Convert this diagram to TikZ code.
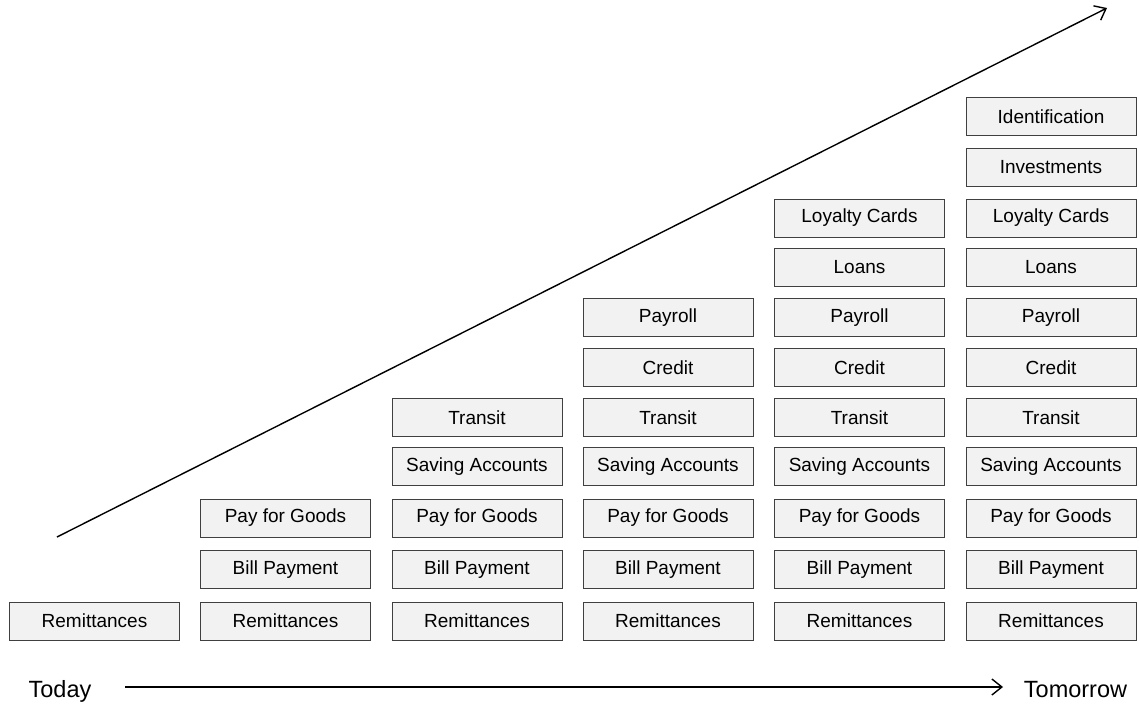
\documentclass[tikz,border=0pt]{standalone}
\usepackage{fontspec}
\setmainfont{Liberation Sans}
\usetikzlibrary{arrows.meta}

\tikzset{
  service/.style={draw=black!75, fill=black!5, line width=0.9pt,
    minimum width=170pt, minimum height=38pt, inner sep=0pt,
    font=\fontsize{19}{21}\selectfont},
  endlabel/.style={anchor=base, inner sep=0pt, font=\fontsize{23.5}{26}\selectfont},
  trend/.style={line width=1.4pt, -{Straight Barb[length=10pt,width=16pt,line width=1.4pt]}},
}

\begin{document}
\begin{tikzpicture}[x=1pt, y=-1pt]
  \useasboundingbox (0,0) rectangle (1139,706);

  % column centres (x) and row centres (y)
  \def\colx{{94.5,285.5,477,668,859.5,1051}}
  \def\rowy{{621,569.5,518,466.5,417.5,367.5,317.5,267.5,218,167,116.5}}
  \def\names{{"Remittances","Bill Payment","Pay for Goods","Saving Accounts","Transit","Credit","Payroll","Loans","Loyalty Cards","Investments","Identification"}}

  % each column stacks two more services than the one before
  \foreach \c [evaluate=\c as \top using int(2*\c-2)] in {1,...,6}{
    \foreach \r in {0,...,\top}{
      \pgfmathsetmacro{\x}{\colx[\c-1]}
      \pgfmathsetmacro{\y}{\rowy[\r]}
      \pgfmathsetmacro{\lbl}{\names[\r]}
      \node[service] (c\c r\r) at (\x,\y) {\lbl};
    }
  }

  % growth trend
  \coordinate (trendStart) at (57,537);
  \coordinate (trendEnd) at (1107,8);
  \draw[trend] (trendStart) -- (trendEnd);

  % time axis
  \node[endlabel] (today) at (60,697.5) {Today};
  \node[endlabel] (tomorrow) at (1075.5,697.5) {Tomorrow};
  \coordinate (axisStart) at (125,687);
  \coordinate (axisEnd) at (1003,687);
  \draw[trend, line width=1.1pt] (axisStart) -- (axisEnd);
\end{tikzpicture}
\end{document}
